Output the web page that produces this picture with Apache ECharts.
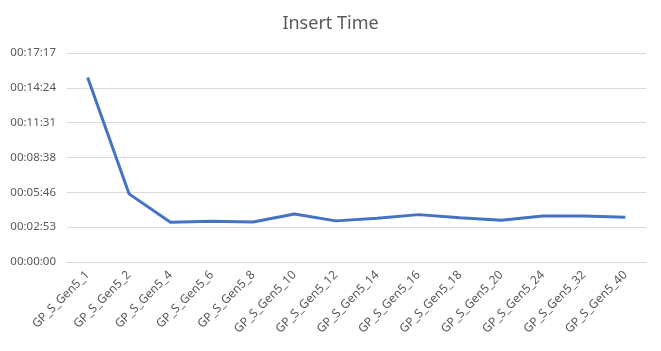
<!DOCTYPE html>
<html>
<head>
<meta charset="utf-8">
<script src="https://cdn.jsdelivr.net/npm/echarts@6/dist/echarts.min.js"></script>
<style>html,body{margin:0;padding:0;background:#fff}#c{width:661px;height:351px}</style>
</head>
<body>
<div id="c"></div>
<script>
const categories = ["GP_S_Gen5_1","GP_S_Gen5_2","GP_S_Gen5_4","GP_S_Gen5_6","GP_S_Gen5_8","GP_S_Gen5_10","GP_S_Gen5_12","GP_S_Gen5_14","GP_S_Gen5_16","GP_S_Gen5_18","GP_S_Gen5_20","GP_S_Gen5_24","GP_S_Gen5_32","GP_S_Gen5_40"];
// insert time in seconds
const insertSeconds = [915, 338, 197, 202, 198, 238, 204, 217, 235, 220, 207, 228, 228, 222];
const yMax = 1036.8;
const yInterval = 172.8;

function fmt(v){
  const s = Math.round(v);
  const h = Math.floor(s/3600), m = Math.floor((s%3600)/60), sec = s%60;
  const p = n => String(n).padStart(2,'0');
  return p(h)+':'+p(m)+':'+p(sec);
}

const chart = echarts.init(document.getElementById('c'), null, {renderer:'canvas'});
chart.setOption({
  animation:false,
  title:{text:'Insert Time', left:'center', top:10, textStyle:{fontFamily:'Noto Sans', fontSize:18, fontWeight:'normal', color:'#595959'}},
  grid:{left:67, right:15, top:53, bottom:89},
  xAxis:{
    type:'category', data:categories, boundaryGap:true,
    axisLine:{lineStyle:{color:'#d9d9d9'}}, axisTick:{show:false},
    axisLabel:{rotate:45, interval:0, fontFamily:'Noto Sans', fontSize:12, color:'#595959', margin:11}
  },
  yAxis:{
    type:'value', min:0, max:yMax, interval:yInterval,
    axisLine:{show:false}, axisTick:{show:false},
    splitLine:{lineStyle:{color:'#d9d9d9'}},
    axisLabel:{formatter:fmt, fontFamily:'Noto Sans', fontSize:11.5, color:'#595959', margin:11}
  },
  series:[{type:'line', data:insertSeconds, showSymbol:false, symbol:'none', lineStyle:{color:'#4472C4', width:3}}]
});
</script>
</body>
</html>
